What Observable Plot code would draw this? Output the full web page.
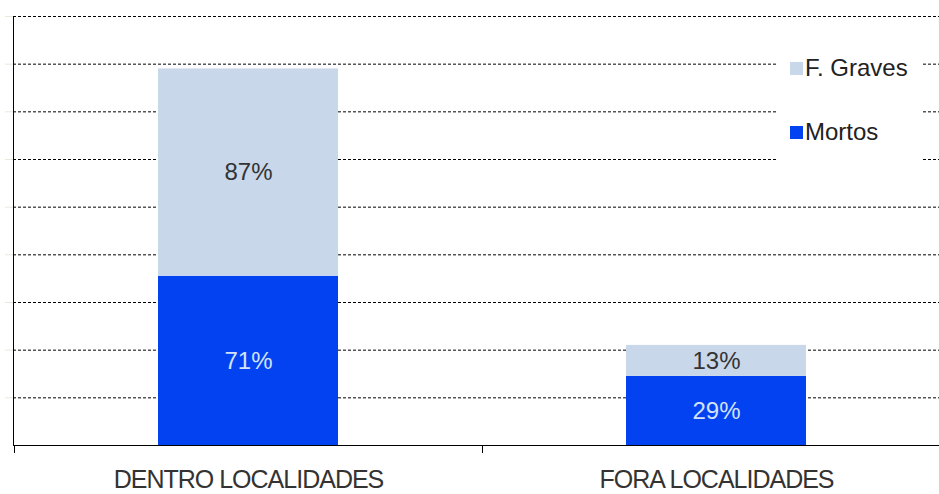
<!DOCTYPE html>
<html>
<head>
<meta charset="utf-8">
<script src="https://cdn.jsdelivr.net/npm/d3@7"></script>
<script src="https://cdn.jsdelivr.net/npm/@observablehq/plot@0.6"></script>
<style>
  html, body { margin: 0; padding: 0; background: #fff; }
  #wrap { position: relative; width: 939px; height: 494px; font-family: "Liberation Sans", Arial, sans-serif; }
  #wrap svg [aria-label="x-axis tick label"] text { letter-spacing: -1px; }
  #legend { position: absolute; left: 776px; top: 47px; width: 145px; height: 120px; background: #fff; }
  .item { position: absolute; left: 14px; display: flex; align-items: center; font-size: 24px; color: #222; line-height: 1; white-space: nowrap; }
  .sw { width: 13px; height: 13px; margin-right: 2px; }
</style>
</head>
<body>
<div id="wrap"></div>
<script>
const categories = ["DENTRO LOCALIDADES", "FORA LOCALIDADES"];
const series = ["Mortos", "F. Graves"];
const mortos = [71, 29];
const graves = [87, 13];
const yTicks = [0, 20, 40, 60, 80, 100, 120, 140, 160, 180];
const colors = ["#0342F0", "#C8D7EA"];
const labelColors = ["#D2E2FA", "#333333"];

const rows = [];
categories.forEach((c, i) => {
  rows.push({cat: c, series: series[0], value: mortos[i]});
  rows.push({cat: c, series: series[1], value: graves[i]});
});

const font = '"Liberation Sans", Arial, sans-serif';

const chart = Plot.plot({
  width: 939,
  height: 494,
  marginLeft: 13,
  marginRight: 0,
  marginTop: 16,
  marginBottom: 49,
  style: {fontFamily: font, background: "#fff", color: "#222"},
  x: {domain: categories, paddingInner: 0.6154, paddingOuter: 0.2968, align: 0.5216, axis: null, label: null},
  y: {domain: [0, 180], axis: null, label: null},
  color: {domain: series, range: colors},
  marks: [
    Plot.axisY({ticks: yTicks.slice(1), text: null, tickSize: 8, stroke: "#e8e8dc", label: null}),
    Plot.ruleY(yTicks.slice(1), {stroke: "#000", strokeDasharray: "3,2", strokeWidth: 1}),
    Plot.barY(rows, {x: "cat", y: "value", fill: "series"}),
    Plot.text(rows, Plot.stackY({
      x: "cat", y: "value", z: "series",
      text: d => d.value + "%",
      fill: d => labelColors[series.indexOf(d.series)],
      fontSize: 24
    })),
    Plot.ruleY([0], {stroke: "#000"}),
    Plot.frame({anchor: "left", stroke: "#000"}),
    Plot.axisX({tickSize: 0, tickPadding: 25, fontSize: 25, fill: "#333", label: null}),
    Plot.axisX({ticks: [categories[0]], text: null, tickSize: 8, dx: -234, stroke: "#000", label: null}),
    Plot.axisX({ticks: [categories[0]], text: null, tickSize: 8, dx: 234, stroke: "#000", label: null})
  ]
});

const wrap = document.getElementById("wrap");
wrap.appendChild(chart);

const legend = document.createElement("div");
legend.id = "legend";
const legendOrder = [1, 0];
legendOrder.forEach((k, j) => {
  const item = document.createElement("div");
  item.className = "item";
  item.style.top = (j === 0 ? 9 : 73) + "px";
  const sw = document.createElement("span");
  sw.className = "sw";
  sw.style.background = colors[k];
  const tx = document.createElement("span");
  tx.textContent = series[k];
  item.appendChild(sw);
  item.appendChild(tx);
  legend.appendChild(item);
});
wrap.appendChild(legend);
</script>
</body>
</html>
